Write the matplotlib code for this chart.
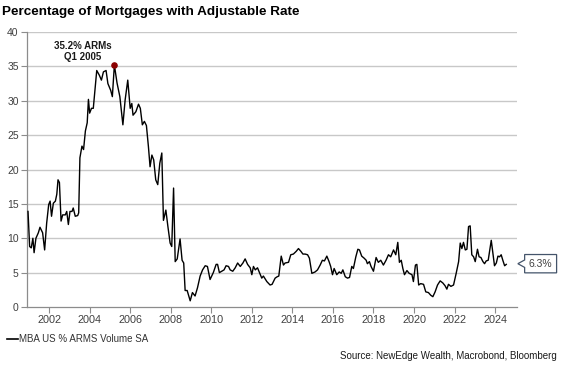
import matplotlib
matplotlib.use("Agg")
import matplotlib.pyplot as plt
from matplotlib.path import Path
import numpy as np

plt.rcParams['font.family'] = ['Liberation Sans', 'DejaVu Sans']

# decimal year positions and values (% of mortgage applications that are ARMs)
years = [
    2000.96, 2001.04, 2001.12, 2001.20, 2001.26, 2001.35, 2001.47, 2001.55, 2001.68, 2001.78,
    2001.88, 2001.98, 2002.05, 2002.12, 2002.21, 2002.31, 2002.38, 2002.44, 2002.51, 2002.59,
    2002.67, 2002.80, 2002.87, 2002.95, 2003.03, 2003.13, 2003.19, 2003.29, 2003.41, 2003.46,
    2003.52, 2003.62, 2003.70, 2003.79, 2003.88, 2003.94, 2004.00, 2004.09, 2004.18, 2004.35,
    2004.48, 2004.58, 2004.68, 2004.81, 2004.90, 2005.04, 2005.12, 2005.22, 2005.35, 2005.49,
    2005.64, 2005.75, 2005.88, 2006.00, 2006.08, 2006.14, 2006.28, 2006.41, 2006.50, 2006.60,
    2006.70, 2006.80, 2006.90, 2006.98, 2007.07, 2007.16, 2007.26, 2007.36, 2007.46, 2007.56,
    2007.64, 2007.76, 2007.86, 2007.97, 2008.05, 2008.14, 2008.22, 2008.32, 2008.46, 2008.56,
    2008.64, 2008.71, 2008.81, 2008.96, 2009.07, 2009.20, 2009.32, 2009.45, 2009.57, 2009.70,
    2009.81, 2009.94, 2010.10, 2010.24, 2010.31, 2010.40, 2010.52, 2010.63, 2010.73, 2010.85,
    2010.93, 2011.06, 2011.18, 2011.30, 2011.43, 2011.56, 2011.67, 2011.79, 2011.92, 2012.00,
    2012.08, 2012.17, 2012.28, 2012.38, 2012.49, 2012.57, 2012.74, 2012.90, 2013.00, 2013.15,
    2013.25, 2013.33, 2013.45, 2013.56, 2013.64, 2013.81, 2013.92, 2014.05, 2014.19, 2014.30,
    2014.42, 2014.52, 2014.63, 2014.75, 2014.84, 2014.96, 2015.12, 2015.24, 2015.37, 2015.48,
    2015.58, 2015.70, 2015.81, 2015.89, 2015.98, 2016.06, 2016.19, 2016.31, 2016.41, 2016.49,
    2016.61, 2016.72, 2016.82, 2016.93, 2017.01, 2017.13, 2017.23, 2017.31, 2017.42, 2017.54,
    2017.64, 2017.70, 2017.80, 2017.88, 2018.00, 2018.13, 2018.24, 2018.36, 2018.49, 2018.62,
    2018.74, 2018.85, 2018.99, 2019.10, 2019.20, 2019.28, 2019.37, 2019.45, 2019.53, 2019.65,
    2019.76, 2019.90, 2019.97, 2020.07, 2020.14, 2020.23, 2020.33, 2020.47, 2020.58, 2020.71,
    2020.83, 2020.93, 2021.04, 2021.16, 2021.29, 2021.42, 2021.53, 2021.62, 2021.70, 2021.82,
    2021.95, 2022.08, 2022.20, 2022.28, 2022.36, 2022.44, 2022.53, 2022.61, 2022.69, 2022.77,
    2022.85, 2022.94, 2023.02, 2023.13, 2023.21, 2023.30, 2023.40, 2023.48, 2023.56, 2023.66,
    2023.76, 2023.81, 2023.89, 2023.97, 2024.06, 2024.14, 2024.22, 2024.30, 2024.38, 2024.47,
    2024.55,
]
arm_share = [
    13.9, 8.8, 8.6, 10.0, 7.9, 10.0, 10.8, 11.6, 10.8, 8.3,
    12.2, 14.9, 15.4, 13.2, 15.1, 15.4, 16.4, 18.5, 18.1, 12.5,
    13.4, 13.4, 13.9, 12.0, 13.9, 13.9, 14.4, 13.2, 13.3, 13.7,
    21.7, 23.4, 22.9, 25.6, 26.8, 30.2, 28.2, 28.9, 28.9, 34.4,
    33.7, 33.0, 34.2, 34.4, 32.5, 31.5, 30.6, 35.2, 32.6, 30.6,
    26.5, 30.1, 33.0, 28.9, 29.6, 27.9, 28.4, 29.5, 28.9, 26.5,
    27.0, 26.4, 23.3, 20.4, 22.1, 21.4, 18.5, 17.8, 20.9, 22.4,
    12.6, 14.1, 11.7, 9.3, 8.8, 17.3, 6.6, 7.0, 9.9, 6.8,
    6.4, 2.4, 2.4, 0.9, 2.1, 1.6, 2.8, 4.5, 5.4, 6.0,
    5.9, 4.0, 5.0, 6.2, 6.2, 5.0, 5.2, 5.4, 6.0, 5.9,
    5.4, 5.2, 5.7, 6.4, 5.9, 6.4, 7.0, 6.2, 5.7, 4.7,
    5.9, 5.4, 5.7, 5.0, 4.2, 4.5, 3.7, 3.2, 3.3, 4.2,
    4.4, 4.5, 7.4, 6.1, 6.4, 6.5, 7.6, 7.7, 8.1, 8.5,
    8.1, 7.7, 7.7, 7.6, 7.1, 4.9, 5.1, 5.4, 6.1, 6.8,
    6.7, 7.4, 6.6, 5.9, 4.7, 5.6, 4.7, 5.1, 4.9, 5.4,
    4.4, 4.2, 4.3, 5.9, 5.6, 7.3, 8.4, 8.3, 7.4, 7.1,
    6.8, 6.3, 6.6, 5.9, 5.2, 7.2, 6.5, 6.8, 6.1, 6.8,
    7.6, 7.3, 8.3, 7.6, 9.4, 6.5, 6.8, 5.6, 4.7, 5.3,
    4.9, 4.7, 3.7, 6.1, 6.2, 3.2, 3.4, 3.3, 2.2, 2.1,
    1.7, 1.5, 2.2, 3.2, 3.8, 3.5, 3.1, 2.6, 3.3, 3.0,
    3.2, 4.9, 6.6, 9.3, 8.5, 9.4, 8.3, 8.4, 11.7, 11.8,
    7.6, 7.3, 6.6, 8.4, 7.3, 7.2, 6.6, 6.3, 6.7, 6.8,
    8.8, 9.7, 7.8, 6.0, 6.4, 7.4, 7.3, 7.6, 6.8, 6.0,
    6.2,
]
x_ticks = list(range(2002, 2025, 2))
y_ticks = [0, 5, 10, 15, 20, 25, 30, 35, 40]
peak_year, peak_value = 2005.22, 35.2
last_label = "6.3%"
last_value = 6.3

title = "Percentage of Mortgages with Adjustable Rate"
series_name = "MBA US % ARMS Volume SA"
source = "Source: NewEdge Wealth, Macrobond, Bloomberg"

W, H = 561, 367
fig = plt.figure(figsize=(W / 100, H / 100), dpi=100)
ax = fig.add_axes([27 / W, 1 - 307 / H, (517 - 27) / W, (307 - 32) / H])

grid_c = "#c8c8c8"
spine_c = "#8c8c8c"
text_c = "#404040"

ax.set_ylim(0, 40)
ax.set_xlim(2000.91, 2025.08)
ax.set_yticks(y_ticks)
ax.set_xticks(x_ticks)
for y in y_ticks[1:]:
    ax.axhline(y, color=grid_c, lw=1.0, zorder=1)

ax.plot(years, arm_share, color="black", lw=1.0, zorder=3)
ax.scatter([peak_year], [peak_value], s=14, color="#8b0000", zorder=4)

for s in ["top", "right"]:
    ax.spines[s].set_visible(False)
for s in ["left", "bottom"]:
    ax.spines[s].set_color(spine_c)
    ax.spines[s].set_linewidth(0.9)
ax.tick_params(axis="both", colors=spine_c, length=4, width=0.8, direction="out")
ax.tick_params(axis="y", labelsize=7.5, labelcolor=text_c, pad=2)
ax.tick_params(axis="x", labelsize=7.8, labelcolor=text_c, pad=2)

ax.annotate("35.2% ARMs\nQ1 2005", xy=(peak_year, peak_value),
            xytext=(-23, 10), textcoords="offset points",
            ha="center", va="center", fontsize=7, fontweight="bold",
            color="#1a1a1a", linespacing=1.15)


def callout(x0, y0, width, height, mutation_size):
    pad = mutation_size * 0.4
    x0 -= pad
    y0 -= pad
    w = width + 2 * pad
    h = height + 2 * pad
    tip = mutation_size * 0.65
    ym = y0 + h / 2
    verts = [(x0, y0), (x0 + w, y0), (x0 + w, y0 + h), (x0, y0 + h),
             (x0, ym + tip * 0.55), (x0 - tip, ym), (x0, ym - tip * 0.55),
             (x0, y0)]
    return Path(verts, closed=True)


ax.annotate(last_label, xy=(1.0, last_value), xycoords=("axes fraction", "data"),
            xytext=(8.5, 0), textcoords="offset points", ha="left", va="center",
            fontsize=7.5, color=text_c, annotation_clip=False,
            bbox=dict(boxstyle=callout, fc="white", ec="#44546a", lw=0.9))

fig.text(2 / W, 1 - 12 / H, title, fontsize=9.7, fontweight="bold",
         ha="left", va="center", color="black")

fig.add_artist(plt.Line2D([7 / W, 18 / W], [1 - 339 / H, 1 - 339 / H],
                          color="black", lw=1.2))
fig.text(19 / W, 1 - 339 / H, series_name, fontsize=7, ha="left", va="center",
         color="#333333")
fig.text(557 / W, 1 - 356 / H, source, fontsize=7, ha="right", va="center",
         color="#1a1a1a")

fig.savefig("out.png", dpi=100)
